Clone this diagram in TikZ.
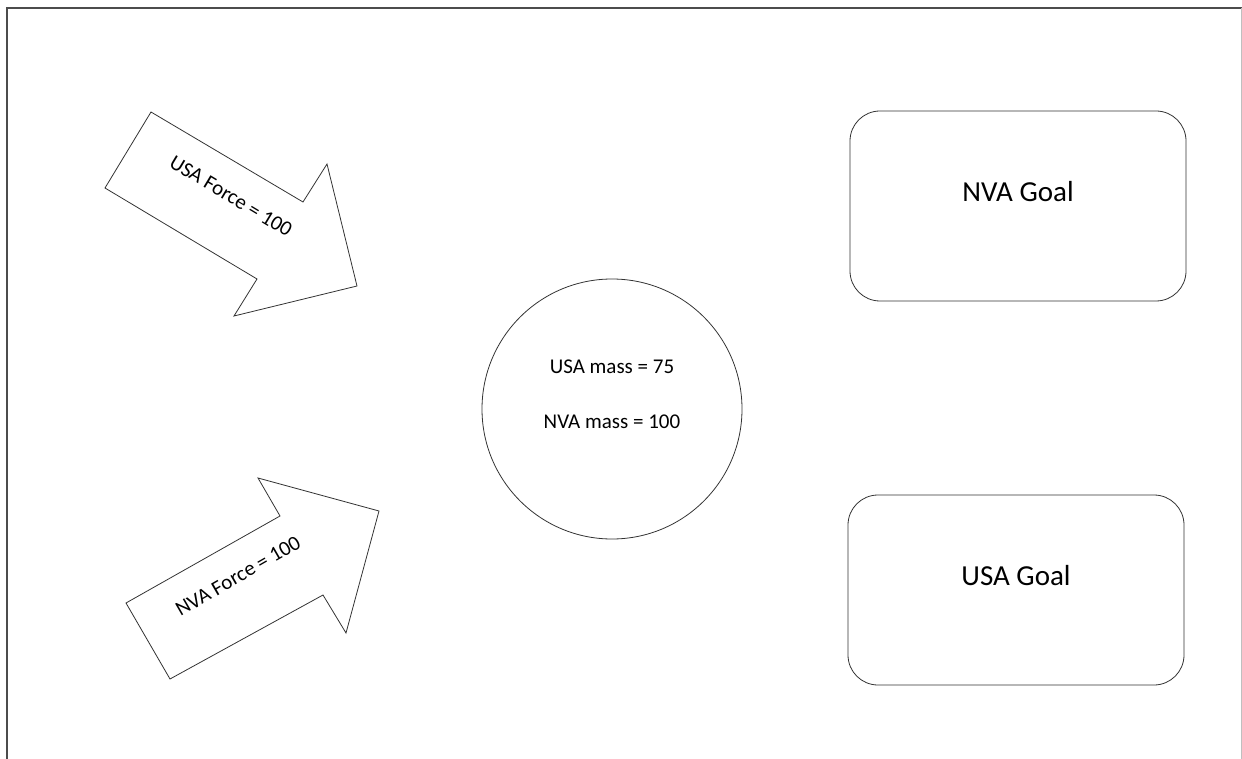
\documentclass[tikz,border=0pt]{standalone}
\usepackage{fontspec}
\setmainfont{Carlito}
\begin{document}
\begin{tikzpicture}[x=1pt,y=-1pt,
  outline/.style={draw=black!80,line width=0.8pt,line join=miter},
  goalbox/.style={outline,rounded corners=30pt,minimum width=336pt,minimum height=190pt},
  goaltext/.style={font=\fontsize{29}{33}\selectfont},
  massnode/.style={outline,circle,minimum size=260pt},
  masstext/.style={font=\fontsize{21}{25}\selectfont},
  forcelabel/.style={font=\fontsize{21}{25}\selectfont}]
\useasboundingbox (0,0) rectangle (1242,759);
% page frame
\draw[black!70,line width=1.2pt] (7,759) -- (7,8) -- (1242,8);
\draw[black!25,line width=1pt] (1241,8) -- (1241,759);

% block arrow pushing down-right
\draw[outline] (151,112) -- (303,202) -- (327,164) -- (357,286) -- (234,316) -- (257,279) -- (105,188) -- cycle;
\node[forcelabel,rotate=-31] (usaforce) at (231,196) {USA Force = 100};

% block arrow pushing up-right
\draw[outline] (126,603) -- (280,516) -- (258,478) -- (379,511) -- (346,633) -- (323,595) -- (170,679) -- cycle;
\node[forcelabel,rotate=30] (nvaforce) at (238,576) {NVA Force = 100};

% contested mass
\node[massnode] (mass) at (612,409) {};
\node[masstext] (usamass) at (612,367) {USA mass = 75};
\node[masstext] (nvamass) at (612,422) {NVA mass = 100};

% goals
\node[goalbox] (nvagoal) at (1018,206) {};
\node[goaltext] (nvagoaltext) at (1018,192) {NVA Goal};
\node[goalbox] (usagoal) at (1016,590) {};
\node[goaltext] (usagoaltext) at (1016,576) {USA Goal};
\end{tikzpicture}
\end{document}
